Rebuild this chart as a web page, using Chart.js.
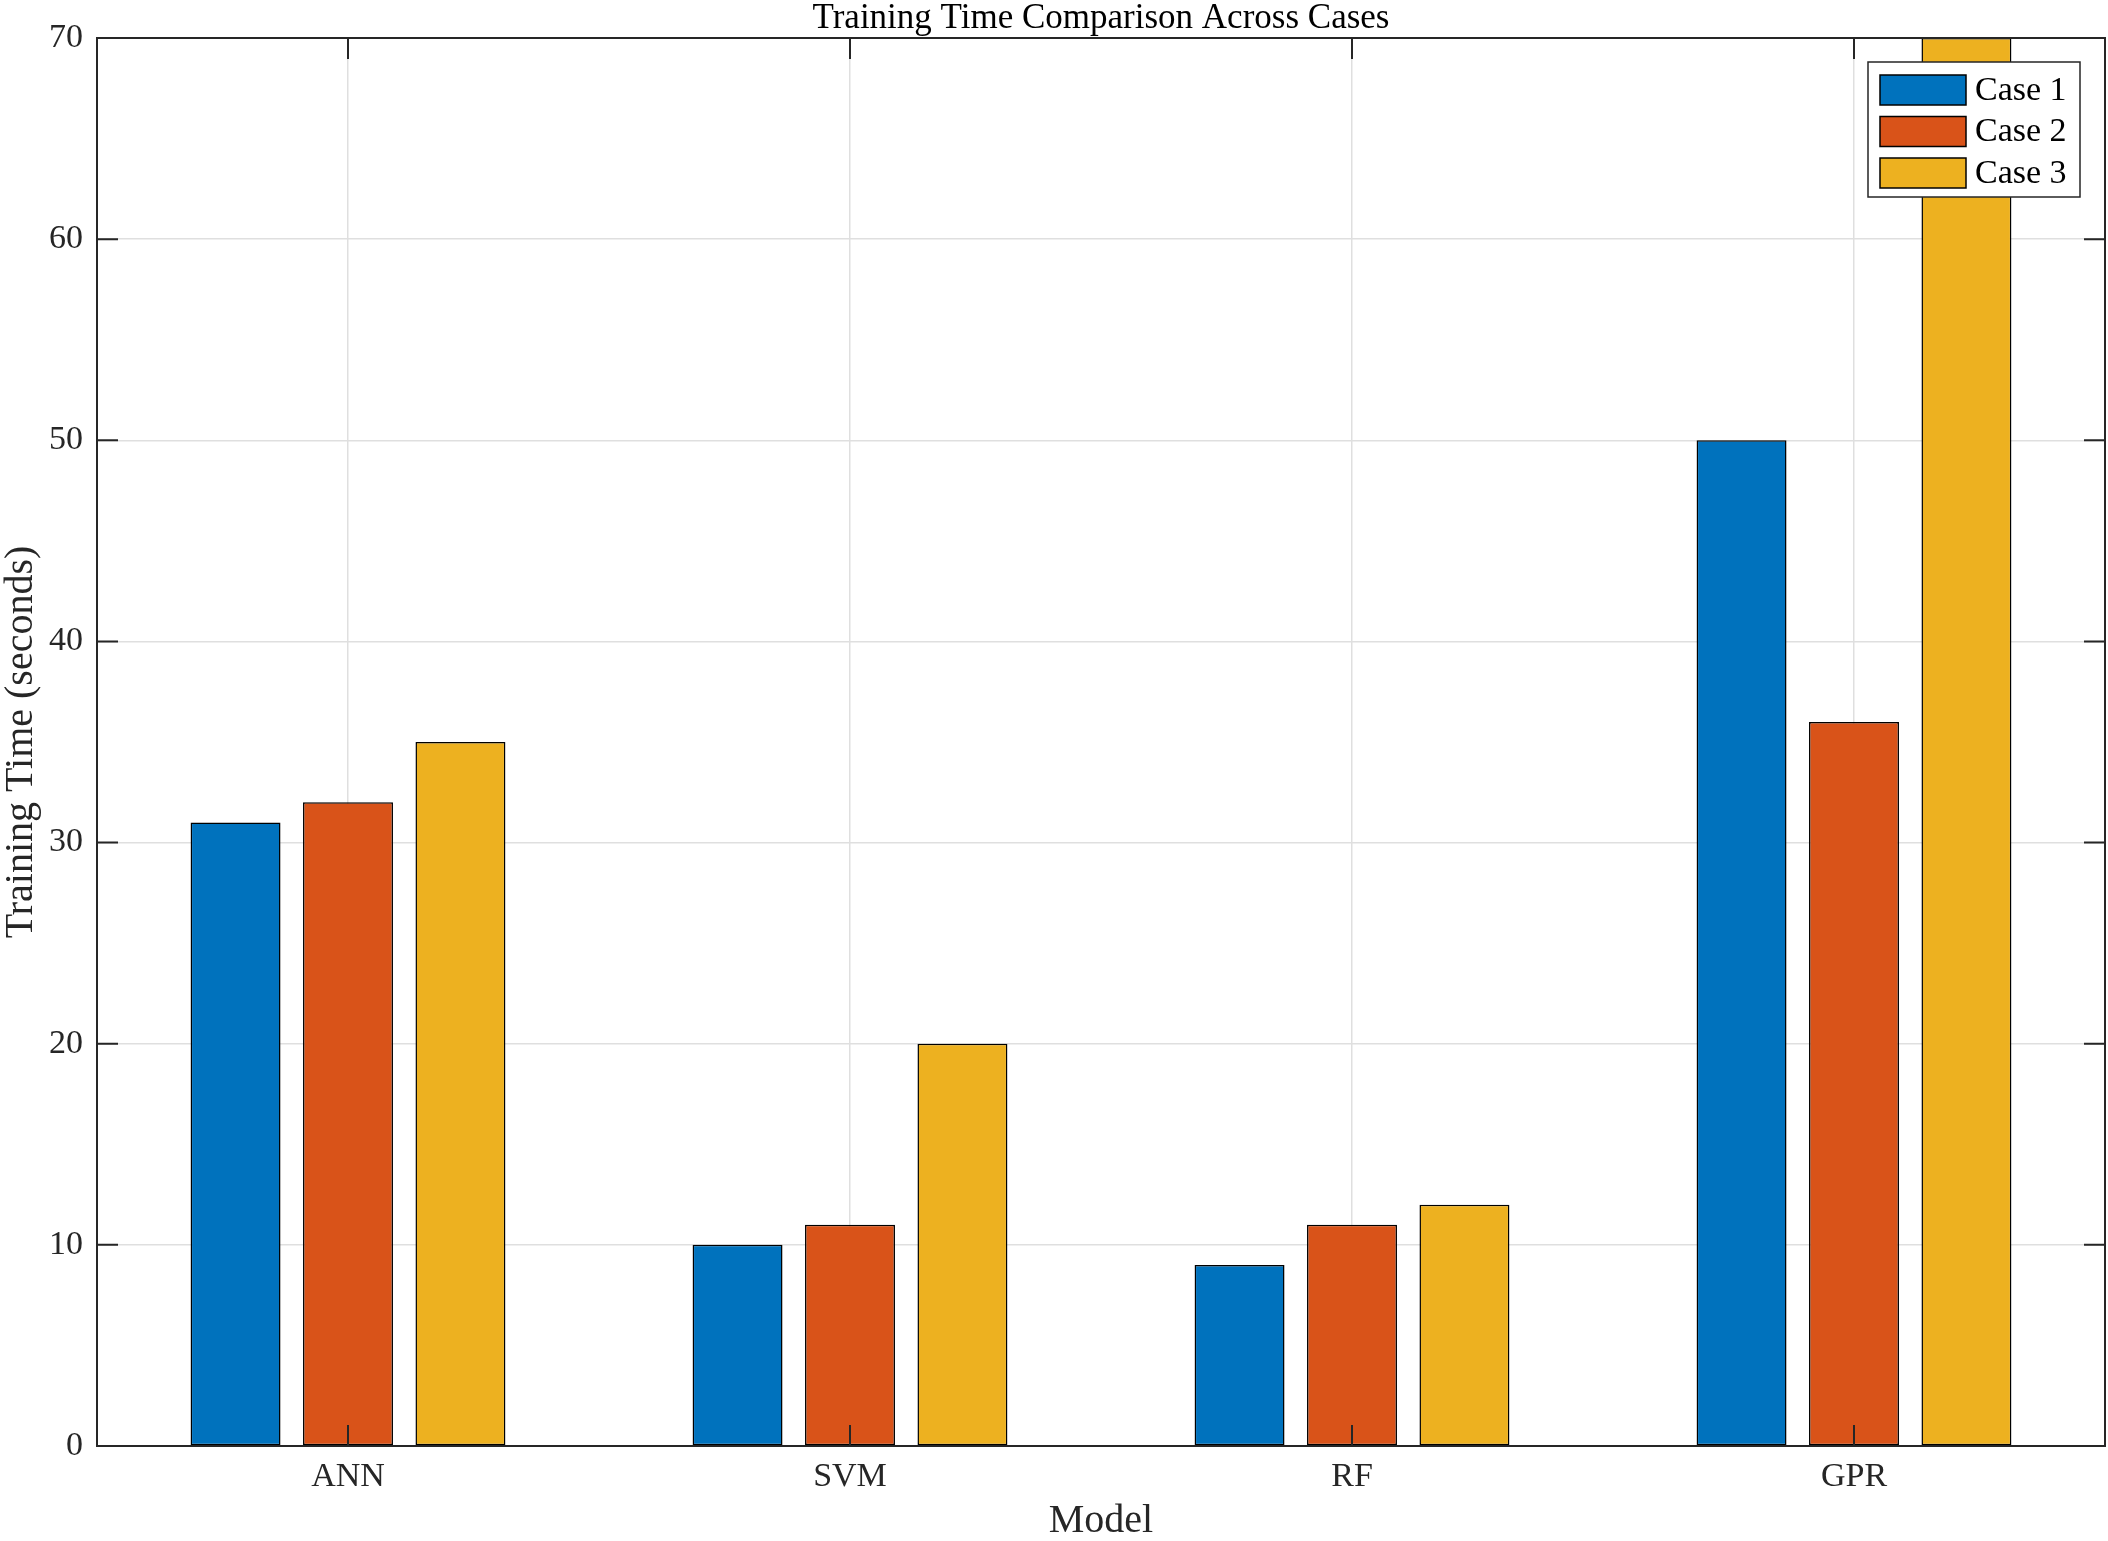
<!DOCTYPE html>
<html>
<head>
<meta charset="utf-8">
<script src="https://cdn.jsdelivr.net/npm/chart.js@4/dist/chart.umd.min.js"></script>
<style>
    html, body { margin: 0; padding: 0; background: #fff; }
    #wrap { width: 2108px; height: 1541px; }
</style>
</head>
<body>
<div id="wrap"><canvas id="barChart" width="2108" height="1541"></canvas></div>
<script>
// Chart data
const models = ['ANN', 'SVM', 'RF', 'GPR'];
const caseNames = ['Case 1', 'Case 2', 'Case 3'];
const case1 = [31, 10, 9, 50];
const case2 = [32, 11, 11, 36];
const case3 = [35, 20, 12, 70];
const yTicks = [0, 10, 20, 30, 40, 50, 60, 70];

const colors = ['#0072BD', '#D95319', '#EDB120'];
const axisColor = '#262626';
const fontFamily = "'Liberation Serif', 'Times New Roman', serif";

// MATLAB-like box: frame on all four sides with inward ticks
const boxPlugin = {
    id: 'boxFrame',
    afterDatasetsDraw(chart) {
        const { ctx, chartArea: a, scales } = chart;
        const tickLen = 21;
        ctx.save();
        ctx.strokeStyle = axisColor;
        ctx.lineWidth = 2;
        ctx.beginPath();
        scales.x.ticks.forEach((t, i) => {
            const x = scales.x.getPixelForTick(i);
            ctx.moveTo(x, a.bottom); ctx.lineTo(x, a.bottom - tickLen);
            ctx.moveTo(x, a.top); ctx.lineTo(x, a.top + tickLen);
        });
        scales.y.ticks.forEach((t, i) => {
            const y = scales.y.getPixelForTick(i);
            ctx.moveTo(a.left, y); ctx.lineTo(a.left + tickLen, y);
            ctx.moveTo(a.right, y); ctx.lineTo(a.right - tickLen, y);
        });
        ctx.stroke();
        ctx.strokeRect(a.left, a.top, a.right - a.left, a.bottom - a.top);
        ctx.restore();
    }
};

// Legend box inside the axes, upper right
const legendPlugin = {
    id: 'insideLegend',
    afterDraw(chart) {
        const { ctx, chartArea: a } = chart;
        const boxW = 212, boxH = 135;
        const bx = a.right - 25 - boxW;
        const by = a.top + 24;
        ctx.save();
        ctx.fillStyle = '#fff';
        ctx.fillRect(bx, by, boxW, boxH);
        ctx.strokeStyle = axisColor;
        ctx.lineWidth = 1.5;
        ctx.strokeRect(bx, by, boxW, boxH);
        ctx.font = '34px ' + fontFamily;
        ctx.textBaseline = 'middle';
        ctx.textAlign = 'left';
        chart.data.datasets.forEach((ds, i) => {
            const cy = by + 28 + i * 41.5;
            ctx.fillStyle = ds.backgroundColor;
            ctx.fillRect(bx + 12, cy - 15, 86, 30);
            ctx.strokeStyle = '#000';
            ctx.lineWidth = 1.5;
            ctx.strokeRect(bx + 12, cy - 15, 86, 30);
            ctx.fillStyle = '#000';
            ctx.fillText(ds.label, bx + 107, cy + 1);
        });
        ctx.restore();
    }
};

const datasets = [case1, case2, case3].map((values, i) => ({
    label: caseNames[i],
    data: values,
    backgroundColor: colors[i],
    borderColor: '#000',
    borderWidth: 1.5,
    borderSkipped: false,
    categoryPercentage: 0.672,
    barPercentage: 0.8
}));

new Chart(document.getElementById('barChart'), {
    type: 'bar',
    data: { labels: models, datasets: datasets },
    options: {
        responsive: false,
        animation: false,
        devicePixelRatio: 1,
        layout: { padding: { left: 0, right: 3, top: 0, bottom: 0 } },
        plugins: {
            legend: { display: false },
            tooltip: { enabled: false },
            title: {
                display: true,
                fullSize: false,
                text: 'Training Time Comparison Across Cases',
                color: '#000',
                font: { family: fontFamily, size: 35, weight: 'normal', lineHeight: 38 / 35 },
                padding: { top: 0, bottom: 0 }
            }
        },
        scales: {
            x: {
                grid: { display: true, offset: false, color: '#dfdfdf', lineWidth: 1.5, drawTicks: false, tickLength: 0 },
                border: { display: false },
                ticks: { color: axisColor, padding: 11, font: { family: fontFamily, size: 34 } },
                title: {
                    display: true,
                    text: 'Model',
                    color: axisColor,
                    font: { family: fontFamily, size: 40, lineHeight: 1.0 },
                    padding: 0
                },
                afterFit(scale) { scale.height = 95; }
            },
            y: {
                min: 0,
                max: 70,
                afterBuildTicks(scale) { scale.ticks = yTicks.map(v => ({ value: v })); },
                grid: { color: '#dfdfdf', lineWidth: 1.5, drawTicks: false, tickLength: 0 },
                border: { display: false },
                ticks: { color: axisColor, padding: 14, font: { family: fontFamily, size: 34 } },
                title: {
                    display: true,
                    text: 'Training Time (seconds)',
                    color: axisColor,
                    font: { family: fontFamily, size: 40, lineHeight: 1.05 },
                    padding: 0
                },
                afterFit(scale) { scale.width = 97; }
            }
        }
    },
    plugins: [boxPlugin, legendPlugin]
});
</script>
</body>
</html>
